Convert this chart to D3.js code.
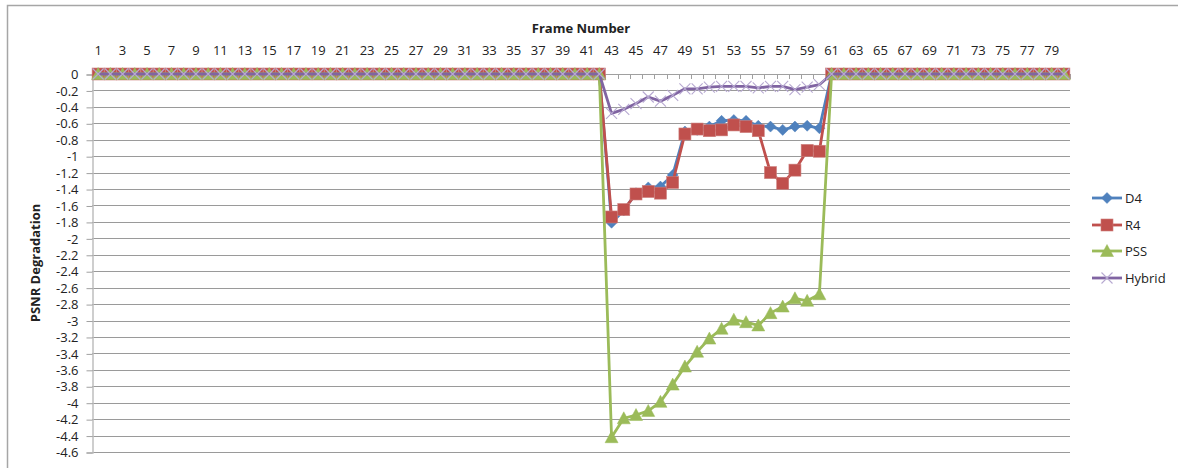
<!DOCTYPE html>
<html>
<head>
<meta charset="utf-8">
<script src="https://cdn.jsdelivr.net/npm/d3@7"></script>
<style>
  html, body { margin: 0; padding: 0; background: #fff; }
  svg { display: block; }
  text { font-family: "Open Sans", "Liberation Sans", sans-serif; fill: #222; }
</style>
</head>
<body>
<svg id="chart" width="1178" height="468"></svg>
<script>
// Frame numbers along the category axis
const frames = [
  1, 2, 3, 4, 5, 6, 7, 8, 9, 10, 11, 12, 13, 14, 15, 16, 17, 18, 19, 20,
  21, 22, 23, 24, 25, 26, 27, 28, 29, 30, 31, 32, 33, 34, 35, 36, 37, 38, 39, 40,
  41, 42, 43, 44, 45, 46, 47, 48, 49, 50, 51, 52, 53, 54, 55, 56, 57, 58, 59, 60,
  61, 62, 63, 64, 65, 66, 67, 68, 69, 70, 71, 72, 73, 74, 75, 76, 77, 78, 79, 80
];

// PSNR degradation per frame (dB), one row of 20 frames per line
const d4 = [
  0, 0, 0, 0, 0, 0, 0, 0, 0, 0, 0, 0, 0, 0, 0, 0, 0, 0, 0, 0,
  0, 0, 0, 0, 0, 0, 0, 0, 0, 0, 0, 0, 0, 0, 0, 0, 0, 0, 0, 0,
  0, 0, -1.81, -1.66, -1.45, -1.38, -1.37, -1.23, -0.70, -0.68, -0.64, -0.57, -0.56, -0.57, -0.63, -0.64, -0.68, -0.64, -0.63, -0.66,
  0, 0, 0, 0, 0, 0, 0, 0, 0, 0, 0, 0, 0, 0, 0, 0, 0, 0, 0, 0
];
const r4 = [
  0, 0, 0, 0, 0, 0, 0, 0, 0, 0, 0, 0, 0, 0, 0, 0, 0, 0, 0, 0,
  0, 0, 0, 0, 0, 0, 0, 0, 0, 0, 0, 0, 0, 0, 0, 0, 0, 0, 0, 0,
  0, 0, -1.74, -1.65, -1.46, -1.43, -1.45, -1.32, -0.73, -0.67, -0.69, -0.68, -0.62, -0.64, -0.69, -1.20, -1.33, -1.17, -0.93, -0.94,
  0, 0, 0, 0, 0, 0, 0, 0, 0, 0, 0, 0, 0, 0, 0, 0, 0, 0, 0, 0
];
const pss = [
  0, 0, 0, 0, 0, 0, 0, 0, 0, 0, 0, 0, 0, 0, 0, 0, 0, 0, 0, 0,
  0, 0, 0, 0, 0, 0, 0, 0, 0, 0, 0, 0, 0, 0, 0, 0, 0, 0, 0, 0,
  0, 0, -4.42, -4.19, -4.15, -4.10, -3.99, -3.78, -3.56, -3.38, -3.22, -3.10, -2.99, -3.02, -3.06, -2.91, -2.83, -2.73, -2.76, -2.68,
  0, 0, 0, 0, 0, 0, 0, 0, 0, 0, 0, 0, 0, 0, 0, 0, 0, 0, 0, 0
];
const hybrid = [
  0, 0, 0, 0, 0, 0, 0, 0, 0, 0, 0, 0, 0, 0, 0, 0, 0, 0, 0, 0,
  0, 0, 0, 0, 0, 0, 0, 0, 0, 0, 0, 0, 0, 0, 0, 0, 0, 0, 0, 0,
  0, 0, -0.48, -0.43, -0.36, -0.28, -0.33, -0.26, -0.18, -0.18, -0.16, -0.15, -0.15, -0.15, -0.17, -0.15, -0.15, -0.19, -0.16, -0.13,
  0, 0, 0, 0, 0, 0, 0, 0, 0, 0, 0, 0, 0, 0, 0, 0, 0, 0, 0, 0
];

// Axis labels
const frameLabels = frames.filter(f => f % 2 === 1);
const yTicks = [0, -0.2, -0.4, -0.6, -0.8, -1, -1.2, -1.4, -1.6, -1.8, -2, -2.2, -2.4,
  -2.6, -2.8, -3, -3.2, -3.4, -3.6, -3.8, -4, -4.2, -4.4, -4.6];

const seriesNames = ["D4", "R4", "PSS", "Hybrid"];
const seriesValues = [d4, r4, pss, hybrid];
const seriesColors = ["#4F81BD", "#C0504D", "#9BBB59", "#8064A2"];
const markerKinds = ["diamond", "square", "triangle", "cross"];

const svg = d3.select("#chart");

// Outer chart frame
svg.append("path")
  .attr("d", "M7.5,470 L7.5,5.5 L1180,5.5")
  .attr("fill", "none")
  .attr("stroke", "#a6a6a6")
  .attr("stroke-width", 1.5);

const plot = { left: 92, right: 1070, top: 74, bottom: 452 };

const x = d3.scaleBand().domain(frames).range([plot.left, plot.right]);
const y = d3.scaleLinear().domain([-4.6, 0]).range([plot.bottom, plot.top]);
const cx = f => x(f) + x.bandwidth() / 2;

// Horizontal gridlines
svg.append("g")
  .selectAll("line")
  .data(yTicks)
  .join("line")
  .attr("x1", plot.left).attr("x2", plot.right)
  .attr("y1", d => Math.round(y(d)) + 0.5).attr("y2", d => Math.round(y(d)) + 0.5)
  .attr("stroke", "#9a9a9a")
  .attr("stroke-width", 1);

// Value axis on the left
const yAxis = d3.axisLeft(y)
  .tickValues(yTicks)
  .tickFormat(d => String(+d.toFixed(1)))
  .tickSize(6)
  .tickPadding(8);
const gy = svg.append("g")
  .attr("transform", `translate(${plot.left + 0.5},0.5)`)
  .call(yAxis);
gy.select(".domain").attr("stroke", "#bfbfbf").attr("stroke-width", 1.5);
gy.selectAll(".tick line").attr("stroke", "#a0a0a0");
gy.selectAll(".tick text")
  .style("font-size", "13px")
  .style("fill", "#222")
  .attr("font-family", null);

// Category axis along the top (labels on odd frames)
const xAxis = d3.axisTop(x)
  .tickValues(frameLabels)
  .tickSize(0)
  .tickPadding(19);
const gx = svg.append("g")
  .attr("transform", `translate(0,${plot.top})`)
  .call(xAxis);
gx.select(".domain").remove();
gx.selectAll(".tick text")
  .style("font-size", "13px")
  .style("fill", "#222")
  .attr("font-family", null);

// Top axis line with tick marks on category boundaries
svg.append("line")
  .attr("x1", plot.left).attr("x2", plot.right)
  .attr("y1", plot.top + 0.5).attr("y2", plot.top + 0.5)
  .attr("stroke", "#a0a0a0");
svg.append("g")
  .selectAll("line")
  .data(frames)
  .join("line")
  .attr("x1", d => Math.round(x(d) + x.bandwidth()) + 0.5)
  .attr("x2", d => Math.round(x(d) + x.bandwidth()) + 0.5)
  .attr("y1", plot.top).attr("y2", plot.top + 5)
  .attr("stroke", "#a0a0a0");

// Axis titles
svg.append("text")
  .attr("x", 581).attr("y", 33)
  .attr("text-anchor", "middle")
  .style("font-size", "13px")
  .style("font-weight", "bold")
  .text("Frame Number");

svg.append("text")
  .attr("transform", "translate(40,263) rotate(-90)")
  .attr("text-anchor", "middle")
  .style("font-size", "13px")
  .style("font-weight", "bold")
  .text("PSNR Degradation");

// Marker drawing
function drawMarker(g, kind, color, px, py) {
  if (kind === "diamond") {
    g.append("path")
      .attr("d", `M${px},${py - 5.5} L${px + 5.5},${py} L${px},${py + 5.5} L${px - 5.5},${py} Z`)
      .attr("fill", color).attr("stroke", color).attr("stroke-width", 0.5);
  } else if (kind === "square") {
    g.append("rect")
      .attr("x", px - 6).attr("y", py - 6)
      .attr("width", 12).attr("height", 12)
      .attr("fill", color).attr("stroke", "#cc7d7b").attr("stroke-width", 0.6);
  } else if (kind === "triangle") {
    g.append("path")
      .attr("d", `M${px},${py - 6.5} L${px + 6.5},${py + 5.5} L${px - 6.5},${py + 5.5} Z`)
      .attr("fill", color).attr("stroke", color).attr("stroke-width", 0.5);
  } else {
    g.append("path")
      .attr("d", `M${px - 5.5},${py - 5.5} L${px + 5.5},${py + 5.5} M${px + 5.5},${py - 5.5} L${px - 5.5},${py + 5.5}`)
      .attr("fill", "none").attr("stroke", "#b7a9d1").attr("stroke-width", 1.1);
  }
}

const line = d3.line()
  .x(d => cx(d.f))
  .y(d => y(d.v));

// Series: line first, then markers, in legend order
seriesNames.forEach((name, i) => {
  const pts = frames.map((f, j) => ({ f, v: seriesValues[i][j] }));
  const g = svg.append("g").attr("class", "series");
  g.append("path")
    .datum(pts)
    .attr("d", line)
    .attr("fill", "none")
    .attr("stroke", seriesColors[i])
    .attr("stroke-width", 2.8)
    .attr("stroke-linejoin", "round");
  const mg = g.append("g");
  pts.forEach(p => drawMarker(mg, markerKinds[i], seriesColors[i], cx(p.f), y(p.v)));
});

// Legend
const legendY = [198, 225, 251, 278];
seriesNames.forEach((name, i) => {
  const g = svg.append("g");
  g.append("line")
    .attr("x1", 1092).attr("x2", 1122)
    .attr("y1", legendY[i]).attr("y2", legendY[i])
    .attr("stroke", seriesColors[i]).attr("stroke-width", 2.8);
  drawMarker(g, markerKinds[i], seriesColors[i], 1107, legendY[i]);
  g.append("text")
    .attr("x", 1125).attr("y", legendY[i] + 4.5)
    .style("font-size", "13px")
    .text(name);
});
</script>
</body>
</html>
